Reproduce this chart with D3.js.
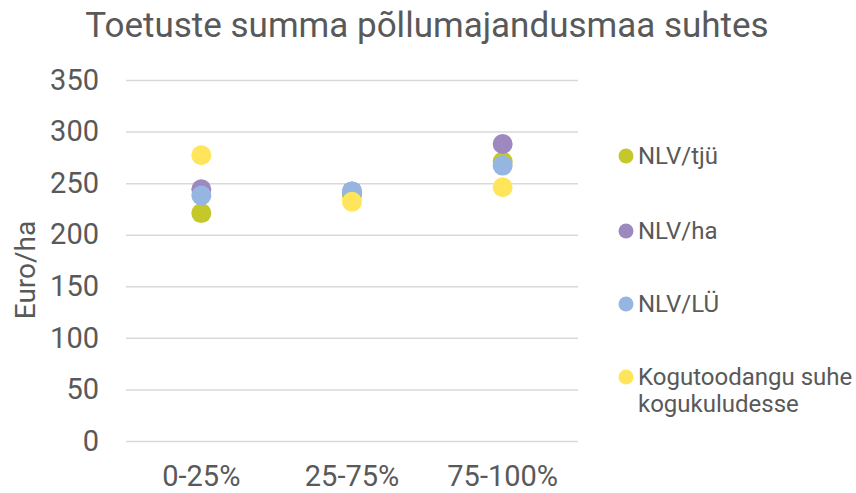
<!DOCTYPE html>
<html><head><meta charset="utf-8">
<script src="https://cdn.jsdelivr.net/npm/d3@7"></script>
<style>body{margin:0;background:#fff}svg{font-family:Roboto,"Noto Sans",sans-serif}</style>
</head><body>
<svg id="c" width="856" height="493"></svg>
<script>
const categories = ["0-25%", "25-75%", "75-100%"];
const seriesNames = ["NLV/tjü", "NLV/ha", "NLV/LÜ", "Kogutoodangu suhe kogukuludesse"];
const seriesColors = ["#C4C82A", "#9E88C0", "#95B6E1", "#FFE55C"];
const nlvTju = [221, 238, 271];
const nlvHa = [244, 242, 288];
const nlvLu = [238, 242, 267];
const kogutoodang = [277, 232, 246];
const yTicks = [0, 50, 100, 150, 200, 250, 300, 350];
const seriesValues = [nlvTju, nlvHa, nlvLu, kogutoodang];

const svg = d3.select("#c");
const x = d3.scaleBand().domain(categories).range([126, 578]);
const y = d3.scaleLinear().domain([0, 350]).range([441, 80]);
const textCol = "#595959";

svg.append("text").attr("x", 427).attr("y", 37).attr("text-anchor", "middle")
  .attr("font-size", 35).attr("fill", textCol).text("Toetuste summa põllumajandusmaa suhtes");

const gy = svg.append("g").attr("transform", "translate(126,0)")
  .call(d3.axisLeft(y).tickValues(yTicks).tickSize(-452).tickPadding(27));
gy.select(".domain").remove();
gy.selectAll(".tick line").attr("stroke", "#d9d9d9").attr("stroke-width", 1.5);
gy.selectAll(".tick text").attr("font-size", 29).attr("fill", textCol).attr("font-family", "Roboto");

const gx = svg.append("g").attr("transform", "translate(0,441)")
  .call(d3.axisBottom(x).tickSize(0).tickPadding(0));
gx.select(".domain").remove();
gx.selectAll(".tick text").attr("font-size", 29).attr("fill", textCol).attr("font-family", "Roboto")
  .attr("dy", null).attr("y", 45);

svg.append("text").attr("transform", "translate(35,270) rotate(-90)").attr("text-anchor", "middle")
  .attr("font-size", 28).attr("fill", textCol).text("Euro/ha");

seriesValues.forEach((vals, i) => {
  svg.append("g").selectAll("circle").data(vals).join("circle")
    .attr("cx", (d, j) => x(categories[j]) + x.bandwidth() / 2)
    .attr("cy", d => y(d)).attr("r", 10).attr("fill", seriesColors[i]);
});

const legY = [156, 231, 304, 377];
const lg = svg.append("g");
seriesNames.forEach((n, i) => {
  lg.append("circle").attr("cx", 626).attr("cy", legY[i]).attr("r", 7.5).attr("fill", seriesColors[i]);
  const t = lg.append("text").attr("x", 638).attr("y", legY[i] + 8)
    .attr("font-size", 24).attr("fill", textCol);
  if (i === 3) {
    t.append("tspan").attr("x", 638).text("Kogutoodangu suhe");
    t.append("tspan").attr("x", 638).attr("y", legY[i] + 35).text("kogukuludesse");
  } else t.text(n);
});
</script>
</body></html>
